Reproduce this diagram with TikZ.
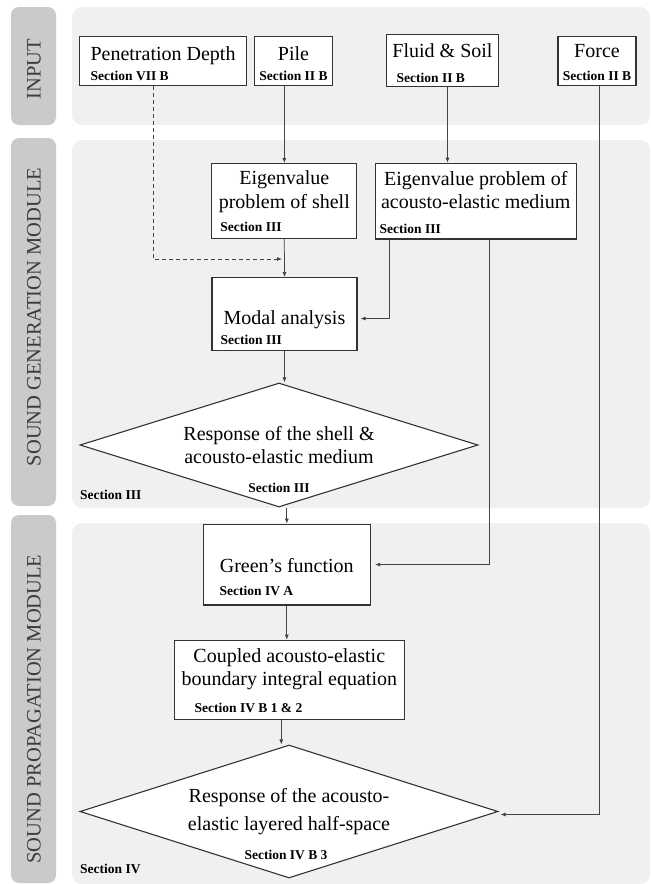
\documentclass[tikz,border=0pt]{standalone}
\usepackage{fontspec}
\setmainfont{Liberation Serif}
\usepackage{xcolor}
\usetikzlibrary{arrows.meta,positioning,shapes.geometric}

\definecolor{barfill}{HTML}{C9CACC}
\definecolor{panelfill}{HTML}{EFF0F2}
\definecolor{bartext}{HTML}{3C3C3C}
\definecolor{boxline}{HTML}{333333}
\definecolor{arrowline}{HTML}{444444}

\newcommand{\mainsize}{\fontsize{20bp}{23.5bp}\selectfont}
\newcommand{\secsize}{\fontsize{13.5bp}{16bp}\selectfont\bfseries}

\begin{document}
\begin{tikzpicture}[
    x=1bp, y=-1bp,
    bar/.style={fill=barfill, rounded corners=8bp},
    panel/.style={fill=panelfill, rounded corners=10bp},
    module/.style={rotate=90, inner sep=0pt, text=bartext, font=\fontsize{20.5bp}{24bp}\selectfont},
    box/.style={rectangle, draw=boxline, line width=1.1bp, fill=white, inner sep=0pt, anchor=north, align=center, font=\mainsize},
    choice/.style={diamond, draw=boxline, line width=1.1bp, fill=white, inner sep=0pt, align=center, font=\mainsize},
    sec/.style={inner sep=0pt, anchor=base west, font=\secsize},
    arrow/.style={-{Latex[length=5bp,width=4bp]}, draw=arrowline, line width=0.75bp}
]
    \useasboundingbox (0,0) rectangle (651,884);

    % module bands
    \fill[bar] (11,7) rectangle (56,125);
    \fill[bar] (11,138) rectangle (56,506);
    \fill[bar] (11,515) rectangle (56,883);
    \fill[panel] (72,7) rectangle (650,125);
    \fill[panel] (72,140) rectangle (650,508);
    \fill[panel] (72,523) rectangle (650,884);

    \node[module] (input) at (34,69) {INPUT};
    \node[module] (generation) at (34,317) {SOUND GENERATION MODULE};
    \node[module] (propagation) at (34,709) {SOUND PROPAGATION MODULE};

    % input
    \node[box, minimum width=167bp, text height=24bp, text depth=25bp] (pen) at (163,36) {Penetration Depth};
    \node[box, minimum width=78bp, text height=24bp, text depth=25bp] (pile) at (293.5,36) {Pile};
    \node[box, minimum width=112bp, text height=22.5bp, text depth=29.5bp] (fluid) at (442.5,34) {Fluid \& Soil};
    \node[box, minimum width=78bp, text height=20.5bp, text depth=28.5bp] (force) at (597,36) {Force};

    \node[sec] (pensec) at ([xshift=11.5bp, yshift=5.5bp]pen.south west) {Section VII B};
    \node[sec, anchor=base] (pilesec) at ([yshift=5.5bp]pile.south) {Section II B};
    \node[sec] (fluidsec) at ([xshift=10.5bp, yshift=5bp]fluid.south west) {Section II B};
    \node[sec, anchor=base] (forcesec) at ([yshift=5.5bp]force.south) {Section II B};

    % sound generation
    \node[box, minimum width=145bp, text height=44.5bp, text depth=30.5bp] (shell) at (284.3,163) {Eigenvalue\\problem of shell};
    \node[box, minimum width=200.5bp, text height=45.3bp, text depth=30.4bp] (acousto) at (475.8,162.7) {Eigenvalue problem of\\acousto-elastic medium};
    \node[box, minimum width=145bp, text height=46.5bp, text depth=26.5bp] (modal) at (284.5,277) {Modal analysis};
    \node[choice, aspect=3.2, minimum width=398bp, minimum height=124bp] (shellresp) at (279,445) {Response of the shell \&\\acousto-elastic medium};

    \node[sec] (shellsec) at ([xshift=9bp, yshift=7.5bp]shell.south west) {Section III};
    \node[sec] (acoustosec) at ([xshift=4.5bp, yshift=6.4bp]acousto.south west) {Section III};
    \node[sec] (modalsec) at ([xshift=9bp, yshift=7bp]modal.south west) {Section III};
    \node[sec, anchor=base] (shellrespsec) at ([yshift=15.5bp]shellresp.south) {Section III};
    \node[sec] (gensec) at (80,499) {Section III};

    % sound propagation
    \node[box, minimum width=167.5bp, text height=48.5bp, text depth=32.3bp] (green) at (286.8,523.6) {Green's function};
    \node[box, minimum width=230.5bp, text height=45.3bp, text depth=33.6bp] (coupled) at (289.3,639.7) {Coupled acousto-elastic\\boundary integral equation};
    \node[choice, aspect=3.1, minimum width=418bp, minimum height=133bp] (halfspace) at (289,811.5) {Response of the acousto-\\[5bp]elastic layered half-space};

    \node[sec] (greensec) at ([xshift=17bp, yshift=10bp]green.south west) {Section IV A};
    \node[sec] (coupledsec) at ([xshift=21bp, yshift=7bp]coupled.south west) {Section IV B 1 \& 2};
    \node[sec, anchor=base] (halfspacesec) at ([xshift=-3bp, yshift=19.5bp]halfspace.south) {Section IV B 3};
    \node[sec] (propsec) at (80,873) {Section IV};

    \coordinate (join) at (282,259);

    % connectors
    \draw[arrow, dashed, dash pattern=on 4bp off 3bp] ([xshift=-10bp]pen.south) |- (join);
    \draw[arrow] (pile.south -| shell.north) -- (shell.north);
    \draw[arrow] ([xshift=5bp]fluid.south) -- ([xshift=5bp]fluid.south |- acousto.north);
    \draw[arrow] (shell.south) -- (modal.north);
    \draw[arrow, shorten >=3bp] ([xshift=-86.8bp]acousto.south) |- ([yshift=-4.5bp]modal.east);
    \draw[arrow] (modal.south) -- (modal.south |- shellresp.north);
    \draw[arrow] (green.north |- shellresp.south) -- (green.north);
    \draw[arrow, shorten >=4bp] ([xshift=14bp]acousto.south) |- (green.east);
    \draw[arrow] (green.south) -- (green.south |- coupled.north);
    \draw[arrow] ([xshift=-8bp]coupled.south) -- ([xshift=-8bp]coupled.south |- halfspace.north);
    \draw[arrow, shorten >=2bp] ([xshift=2.5bp]force.south) |- ([yshift=-3bp]halfspace.east);
\end{tikzpicture}
\end{document}
